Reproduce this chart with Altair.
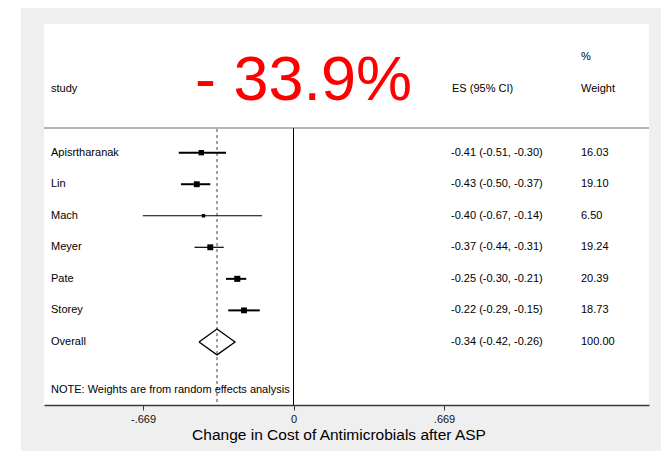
import altair as alt
import pandas as pd

# ---- data ----
STUDIES = ["Apisrtharanak", "Lin", "Mach", "Meyer", "Pate", "Storey"]
ES = [-0.41, -0.43, -0.40, -0.37, -0.25, -0.22]
LO = [-0.51, -0.50, -0.67, -0.44, -0.30, -0.29]
HI = [-0.30, -0.37, -0.14, -0.31, -0.21, -0.15]
WEIGHTS = [16.03, 19.10, 6.50, 19.24, 20.39, 18.73]

OVERALL_LABEL = "Overall"
OVERALL_ES = -0.34
OVERALL_LO = -0.42
OVERALL_HI = -0.26
OVERALL_WEIGHT = 100.00

TICK_VALUES = [-0.669, 0, 0.669]
TICK_LABELS = ["-.669", "0", ".669"]

BIG_LABEL = "- 33.9%"
X_TITLE = "Change in Cost of Antimicrobials after ASP"
NOTE = "NOTE: Weights are from random effects analysis"

# ---- tables ----
def es_text(e, l, h):
    return f"{e:.2f} ({l:.2f}, {h:.2f})"

studies = pd.DataFrame({
    "study": STUDIES,
    "row": list(range(len(STUDIES))),
    "es": ES,
    "lo": LO,
    "hi": HI,
    "weight": WEIGHTS,
})
studies["es_label"] = [es_text(e, l, h) for e, l, h in zip(ES, LO, HI)]
studies["w_label"] = [f"{w:.2f}" for w in WEIGHTS]

ov_row = len(STUDIES)
labels = pd.DataFrame({
    "study": STUDIES + [OVERALL_LABEL],
    "row": list(range(len(STUDIES) + 1)),
    "es_label": list(studies["es_label"]) + [es_text(OVERALL_ES, OVERALL_LO, OVERALL_HI)],
    "w_label": list(studies["w_label"]) + [f"{OVERALL_WEIGHT:.2f}"],
})

HALF = 0.41  # diamond half height in row units
diamond = pd.DataFrame({
    "x": [OVERALL_LO, OVERALL_ES, OVERALL_HI, OVERALL_ES, OVERALL_LO],
    "row": [ov_row, ov_row - HALF, ov_row, ov_row + HALF, ov_row],
    "o": [0, 1, 2, 3, 4],
})
overall = pd.DataFrame({"es": [OVERALL_ES]})
one = pd.DataFrame({"a": [0]})

W, H = 605, 381
PAD_L, PAD_T, PAD_R, PAD_B = 36, 16, 12, 46
FONT = "Liberation Sans, Arial, Helvetica, sans-serif"

xscale = alt.Scale(domain=[-1.109, 1.58], nice=False, zero=False)
yscale = alt.Scale(domain=[-4.08, 8.0], reverse=True, nice=False, zero=False)

label_expr = "datum.value < -0.1 ? '%s' : datum.value > 0.1 ? '%s' : '%s'" % (
    TICK_LABELS[0], TICK_LABELS[2], TICK_LABELS[1])

xaxis = alt.Axis(
    values=TICK_VALUES, labelExpr=label_expr, title=None, grid=False,
    domainColor="#3a3a3a", domainWidth=1.6, tickColor="#3a3a3a", tickSize=5,
    labelFontSize=11, labelFont=FONT, labelColor="#111", labelPadding=3,
)

# left white strip of page (outside grey frame)
strip = alt.Chart(one).mark_rect(color="white").encode(
    x=alt.value(-PAD_L), x2=alt.value(-23), y=alt.value(-PAD_T), y2=alt.value(H + PAD_B)
)

ci = alt.Chart(studies).mark_rule(color="black").encode(
    x=alt.X("lo:Q", scale=xscale, axis=xaxis),
    x2="hi:Q",
    y=alt.Y("row:Q", scale=yscale, axis=None),
    strokeWidth=alt.condition(
        alt.FieldOneOfPredicate(field="study", oneOf=["Mach", "Meyer"]),
        alt.value(1.2), alt.value(2.0)),
)

boxes = alt.Chart(studies).mark_point(shape="square", filled=True, color="black", opacity=1).encode(
    x=alt.X("es:Q", scale=xscale),
    y=alt.Y("row:Q", scale=yscale),
    size=alt.Size("weight:Q", scale=alt.Scale(domain=[0, 21], range=[0, 38]), legend=None),
)

dia = alt.Chart(diamond).mark_line(color="black", strokeWidth=1.3).encode(
    x=alt.X("x:Q", scale=xscale),
    y=alt.Y("row:Q", scale=yscale),
    order="o:Q",
)

sep = alt.Chart(one).mark_rule(color="#6a6a6a", strokeWidth=1).encode(
    x=alt.value(0), x2=alt.value(W), y=alt.value(104)
)

zero = alt.Chart(one).mark_rule(color="black", strokeWidth=1).encode(
    x=alt.datum(0, scale=xscale), y=alt.value(104), y2=alt.value(H)
)

dash = alt.Chart(overall).mark_rule(color="#444", strokeWidth=1, strokeDash=[3, 3]).encode(
    x=alt.X("es:Q", scale=xscale), y=alt.value(105), y2=alt.value(H)
)

txt = dict(font=FONT, fontSize=11, color="black", align="left", baseline="middle")
names = alt.Chart(labels).mark_text(**txt).encode(
    x=alt.value(7), y=alt.Y("row:Q", scale=yscale), text="study:N")
esl = alt.Chart(labels).mark_text(**txt).encode(
    x=alt.value(407), y=alt.Y("row:Q", scale=yscale), text="es_label:N")
wl = alt.Chart(labels).mark_text(**txt).encode(
    x=alt.value(537), y=alt.Y("row:Q", scale=yscale), text="w_label:N")

hdr_study = alt.Chart(one).mark_text(**txt, text="study").encode(x=alt.value(7), y=alt.value(65))
hdr_es = alt.Chart(one).mark_text(**txt, text="ES (95% CI)").encode(x=alt.value(408), y=alt.value(65))
hdr_pct = alt.Chart(one).mark_text(**txt, text="%").encode(x=alt.value(537), y=alt.value(33))
hdr_w = alt.Chart(one).mark_text(**txt, text="Weight").encode(x=alt.value(537), y=alt.value(65))
note = alt.Chart(one).mark_text(**txt, text=NOTE).encode(x=alt.value(7), y=alt.value(366))

big = alt.Chart(one).mark_text(font=FONT, fontSize=63, color="#ff0000", align="left",
                               baseline="alphabetic", text=BIG_LABEL).encode(
    x=alt.value(151), y=alt.value(76))

xtitle = alt.Chart(one).mark_text(font=FONT, fontSize=15.5, color="black", align="center",
                                  baseline="alphabetic", text=X_TITLE).encode(
    x=alt.value(295), y=alt.value(416))

chart = alt.layer(
    strip, sep, zero, dash, ci, boxes, dia, names, esl, wl,
    hdr_study, hdr_es, hdr_pct, hdr_w, note, big, xtitle,
).properties(
    width=W, height=H,
    padding={"left": PAD_L, "top": PAD_T, "right": PAD_R, "bottom": PAD_B},
    autosize=alt.AutoSizeParams(type="none"),
    background="#efefef",
).configure_view(fill="white", stroke=None)

chart.save("out.html", embed_options={"renderer": "svg", "actions": False})
